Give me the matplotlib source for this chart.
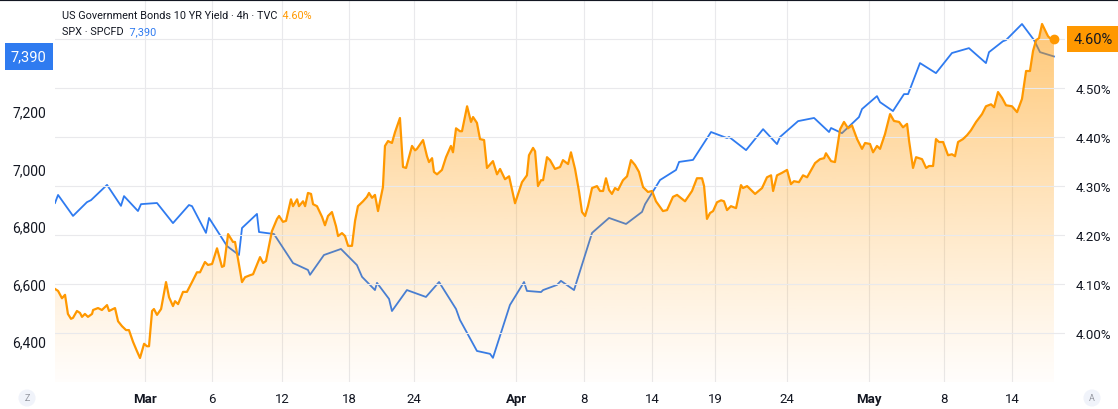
import matplotlib
matplotlib.use("Agg")
import matplotlib.pyplot as plt
import numpy as np
from matplotlib.patches import PathPatch
from matplotlib.lines import Line2D
from matplotlib.transforms import blended_transform_factory

plt.rcParams["font.family"] = ["Roboto", "DejaVu Sans"]

# x is trading-day offset from the left edge of the chart
tick_pos = [5.29, 9.24, 13.35, 17.29, 21.12, 27.12, 31.12, 35.12, 38.82, 43.06, 47.88, 52.29, 56.29]
tick_labels = ["Mar", "6", "12", "18", "24", "Apr", "8", "14", "19", "24", "May", "8", "14"]
month_labels = ["Mar", "Apr", "May"]

spx_t = [0.0, 0.18, 1.06, 1.88, 2.12, 3.06, 3.88, 4.06, 4.88, 5.06, 6.0, 6.94, 7.88, 8.06,
         8.88, 9.06, 10.12, 10.82, 11.0, 11.88, 12.0, 12.88, 14.0, 14.88, 15.0, 15.82, 16.82,
         17.76, 18.06, 18.82, 18.94, 19.65, 19.82, 20.7, 21.82, 22.59, 23.59, 23.82, 24.82,
         25.59, 25.76, 26.76, 27.59, 27.76, 28.59, 28.71, 29.53, 29.76, 30.53, 31.59, 32.59,
         33.59, 34.53, 34.71, 35.59, 36.53, 36.71, 37.53, 38.59, 39.53, 39.65, 40.65, 41.65,
         42.47, 42.65, 43.71, 44.65, 45.53, 45.65, 46.29, 47.29, 47.47, 48.35, 48.53, 49.29,
         49.94, 50.18, 50.88, 51.82, 52.76, 53.76, 54.76, 54.94, 55.76, 55.94, 56.88, 57.59,
         57.94, 58.76]
spx_val = [6880, 6908, 6835, 6883, 6890, 6943, 6870, 6904, 6852, 6876, 6880, 6810, 6873, 6869,
           6776, 6828, 6730, 6699, 6793, 6842, 6779, 6772, 6671, 6647, 6630, 6699, 6720,
           6664, 6623, 6577, 6602, 6546, 6504, 6577, 6553, 6605, 6511, 6473, 6365,
           6355, 6341, 6525, 6605, 6574, 6570, 6577, 6595, 6609, 6577, 6776, 6828,
           6807, 6849, 6876, 6960, 6995, 7023, 7030, 7127, 7106, 7110, 7064, 7137,
           7085, 7110, 7165, 7176, 7127, 7141, 7123, 7179, 7207, 7252, 7231, 7200,
           7259, 7259, 7367, 7332, 7402, 7419, 7367, 7405, 7443, 7447, 7503, 7447,
           7405, 7390]

yld_t = [0.0, 0.18, 0.41, 0.59, 0.76, 0.94, 1.06, 1.29, 1.47, 1.59, 1.76, 1.94, 2.18, 2.24,
         2.53, 2.76, 3.06, 3.18, 3.53, 3.71, 3.94, 4.18, 4.35, 4.59, 4.82, 5.0, 5.24, 5.41,
         5.53, 5.71, 5.82, 6.0, 6.24, 6.53, 6.71, 6.94, 7.06, 7.24, 7.53, 7.76, 8.06, 8.35,
         8.53, 8.82, 9.0, 9.24, 9.53, 9.82, 9.94, 10.18, 10.47, 10.59, 11.0, 11.18, 11.47,
         11.65, 12.06, 12.24, 12.41, 12.76, 13.06, 13.18, 13.41, 13.59, 13.88, 14.0, 14.24,
         14.35, 14.59, 14.71, 14.88, 15.06, 15.18, 15.41, 15.71, 15.88, 16.06, 16.29, 16.53,
         16.65, 16.88, 17.06, 17.24, 17.47, 17.65, 17.82, 18.12, 18.35, 18.47, 18.65, 18.82,
         19.0, 19.29, 19.41, 19.59, 19.82, 20.0, 20.29, 20.47, 20.65, 21.0, 21.18, 21.29,
         21.65, 21.88, 22.0, 22.18, 22.29, 22.47, 22.76, 23.0, 23.29, 23.41, 23.59, 23.82,
         23.94, 24.24, 24.47, 24.59, 24.82, 25.0, 25.24, 25.41, 25.76, 26.0, 26.18, 26.47,
         26.71, 27.06, 27.47, 27.76, 27.88, 28.12, 28.24, 28.41, 28.59, 28.71, 28.94, 29.12,
         29.41, 29.71, 29.88, 30.18, 30.35, 30.59, 30.82, 31.0, 31.18, 31.35, 31.59, 31.88,
         32.06, 32.24, 32.41, 32.59, 32.76, 32.94, 33.12, 33.41, 33.65, 33.88, 34.12, 34.35,
         34.59, 34.88, 35.12, 35.35, 35.76, 36.0, 36.35, 36.59, 37.06, 37.47, 37.76, 38.06,
         38.18, 38.35, 38.53, 38.71, 38.94, 39.18, 39.35, 39.53, 39.76, 40.06, 40.35, 40.47,
         40.71, 41.18, 41.59, 41.88, 42.12, 42.24, 42.47, 42.76, 43.06, 43.29, 43.47, 43.76,
         44.0, 44.24, 44.71, 45.0, 45.24, 45.35, 45.65, 45.88, 46.18, 46.41, 46.65, 46.88,
         47.18, 47.47, 47.65, 47.94, 48.12, 48.35, 48.53, 48.82, 49.12, 49.35, 49.65, 49.88,
         50.12, 50.24, 50.47, 50.65, 51.0, 51.24, 51.41, 51.65, 51.82, 52.0, 52.24, 52.53,
         52.76, 52.94, 53.12, 53.41, 53.65, 53.88, 54.18, 54.53, 54.76, 55.06, 55.24, 55.47,
         55.71, 55.94, 56.29, 56.59, 56.88, 57.12, 57.35, 57.53, 57.71, 57.88, 58.06, 58.24,
         58.41, 58.65, 58.76]
yld_val = [4.090, 4.086, 4.071, 4.078, 4.039, 4.029, 4.031, 4.045, 4.041, 4.033, 4.039, 4.033,
           4.039, 4.047, 4.051, 4.047, 4.057, 4.045, 4.051, 4.024, 4.014, 4.006, 4.006, 3.982,
           3.963, 3.949, 3.978, 3.973, 3.973, 4.045, 4.049, 4.037, 4.049, 4.104, 4.073, 4.055,
           4.065, 4.059, 4.084, 4.084, 4.104, 4.124, 4.124, 4.145, 4.139, 4.141, 4.173, 4.135,
           4.137, 4.202, 4.186, 4.186, 4.104, 4.114, 4.118, 4.120, 4.155, 4.143, 4.147, 4.208,
           4.233, 4.239, 4.227, 4.229, 4.273, 4.259, 4.273, 4.259, 4.269, 4.259, 4.286, 4.284,
           4.263, 4.259, 4.237, 4.220, 4.239, 4.247, 4.218, 4.198, 4.204, 4.198, 4.178, 4.178,
           4.229, 4.259, 4.269, 4.278, 4.286, 4.276, 4.282, 4.249, 4.298, 4.382, 4.392, 4.388,
           4.410, 4.439, 4.339, 4.337, 4.382, 4.373, 4.376, 4.394, 4.361, 4.349, 4.357, 4.329,
           4.324, 4.333, 4.359, 4.382, 4.369, 4.418, 4.412, 4.412, 4.463, 4.431, 4.441, 4.429,
           4.396, 4.394, 4.337, 4.351, 4.324, 4.335, 4.314, 4.320, 4.265, 4.308, 4.322, 4.363,
           4.378, 4.371, 4.300, 4.312, 4.312, 4.359, 4.353, 4.335, 4.339, 4.353, 4.345, 4.369,
           4.335, 4.290, 4.247, 4.239, 4.259, 4.296, 4.300, 4.290, 4.290, 4.316, 4.292, 4.284,
           4.296, 4.292, 4.312, 4.320, 4.353, 4.343, 4.329, 4.298, 4.288, 4.290, 4.269, 4.249,
           4.251, 4.278, 4.282, 4.269, 4.290, 4.316, 4.316, 4.300, 4.233, 4.245, 4.249, 4.267,
           4.271, 4.269, 4.251, 4.259, 4.255, 4.302, 4.296, 4.300, 4.284, 4.296, 4.318, 4.322,
           4.290, 4.322, 4.327, 4.333, 4.304, 4.310, 4.308, 4.322, 4.318, 4.347, 4.355, 4.357,
           4.367, 4.351, 4.349, 4.416, 4.431, 4.418, 4.424, 4.396, 4.376, 4.388, 4.386, 4.369,
           4.382, 4.376, 4.406, 4.447, 4.433, 4.431, 4.420, 4.427, 4.392, 4.337, 4.359, 4.355,
           4.337, 4.341, 4.341, 4.396, 4.390, 4.390, 4.363, 4.365, 4.361, 4.390, 4.396, 4.404,
           4.414, 4.431, 4.447, 4.463, 4.467, 4.461, 4.492, 4.480, 4.465, 4.463, 4.451, 4.478,
           4.535, 4.535, 4.576, 4.598, 4.602, 4.631, 4.618, 4.606, 4.598, 4.600]

spx_ticks = [6400, 6600, 6800, 7000, 7200]
yld_ticks = [4.00, 4.10, 4.20, 4.30, 4.40, 4.50, 4.60]
spx_last = 7390
yld_last = 4.60

orange = "#ff9800"
blue = "#2f7bf0"
text_col = "#131722"
grid_col = "#e9e9ec"

xlim = (0, 59.41)
spx_lim = (6257, 7590)
yld_lim = (3.90, 4.682)

fig = plt.figure(figsize=(11.18, 4.10), dpi=100)
ax = fig.add_axes([55 / 1118, 27 / 410, 1010 / 1118, 383 / 410])
ax2 = ax.twinx()

# SPX line (under the yield fill)
ax.plot(spx_t, spx_val, color=blue, lw=1.3, solid_joinstyle="round")
ax.set_xlim(*xlim)
ax.set_ylim(*spx_lim)
ax.set_yticks(spx_ticks)
ax.set_yticklabels([f"{v:,}" for v in spx_ticks])
ax.set_xticks(tick_pos)
ax.set_xticklabels(tick_labels)
for lbl in ax.get_xticklabels():
    if lbl.get_text() in month_labels:
        lbl.set_fontweight("bold")
ax.tick_params(axis="y", length=0, pad=6.5, labelsize=10, labelcolor=text_col)
ax.tick_params(axis="x", length=0, pad=7, labelsize=9.5, labelcolor=text_col)
ax.grid(axis="x", color=grid_col, lw=0.8)
ax.set_axisbelow(True)

# yield: gradient area + line
poly = ax2.fill_between(yld_t, yld_val, yld_lim[0], color="none", lw=0)
clip = PathPatch(poly.get_paths()[0], transform=ax2.transData, fc="none", ec="none")
ax2.add_patch(clip)
alpha = np.linspace(0.03, 0.62, 256) ** 1.15
grad = np.zeros((256, 1, 4))
grad[:, 0, :3] = matplotlib.colors.to_rgb(orange)
grad[:, 0, 3] = alpha
im = ax2.imshow(grad, extent=[xlim[0], xlim[1], yld_lim[0], yld_lim[1]],
                origin="lower", aspect="auto", zorder=1)
im.set_clip_path(clip)
ax2.plot(yld_t, yld_val, color=orange, lw=1.6, zorder=3, solid_joinstyle="round")
ax2.plot([yld_t[-1]], [yld_val[-1]], "o", color=orange, ms=6, zorder=4)

ax2.set_xlim(*xlim)
ax2.set_ylim(*yld_lim)
ax2.set_yticks(yld_ticks)
# the top label sits under the last-value badge, so only the badge shows it
ax2.set_yticklabels([f"{v:.2f}%" if abs(v - yld_last) > 1e-9 else "" for v in yld_ticks])
ax2.tick_params(axis="y", length=0, pad=8, labelsize=9.5, labelcolor=text_col)
ax2.grid(axis="y", color=grid_col, lw=0.8, zorder=0)

for a in (ax, ax2):
    for s in a.spines.values():
        s.set_visible(False)

# last value badges
tl = blended_transform_factory(ax.transAxes, ax.transData)
ax.annotate(f"{spx_last:,}", xy=(0, spx_last), xycoords=tl, xytext=(-6, 0),
            textcoords="offset points", ha="right", va="center", fontsize=10.5,
            color="white", annotation_clip=False,
            bbox=dict(boxstyle="square,pad=0.42", fc=blue, ec="none"))
tr = blended_transform_factory(ax2.transAxes, ax2.transData)
ax2.annotate(f"{yld_last:.2f}%", xy=(1, yld_last), xycoords=tr, xytext=(6, 0),
             textcoords="offset points", ha="left", va="center", fontsize=10.5,
             color=text_col, annotation_clip=False,
             bbox=dict(boxstyle="square,pad=0.42", fc=orange, ec="none"))

# legend text
t1 = fig.text(62 / 1118, 1 - 16 / 410, "US Government Bonds 10 YR Yield · 4h · TVC",
              fontsize=7.8, color=text_col, va="center")
ax.annotate(f"  {yld_last:.2f}%", xy=(1, 0.5), xycoords=t1, va="center",
            fontsize=7.8, color=orange)
t2 = fig.text(62 / 1118, 1 - 32 / 410, "SPX · SPCFD", fontsize=7.8, color=text_col, va="center")
ax.annotate(f"  {spx_last:,}", xy=(1, 0.5), xycoords=t2, va="center",
            fontsize=7.8, color=blue)

# corner buttons
for xpos, ch in [(27 / 1118, "Z"), (1092 / 1118, "A")]:
    fig.text(xpos, 1 - 399 / 410, ch, fontsize=6.5, color="#9598a1", ha="center",
             va="center", bbox=dict(boxstyle="circle,pad=0.45", fc="#f0f3fa", ec="none"))

fig.add_artist(Line2D([0, 1], [1, 1], transform=fig.transFigure, color=text_col, lw=3))

fig.savefig("out.png", dpi=100)
